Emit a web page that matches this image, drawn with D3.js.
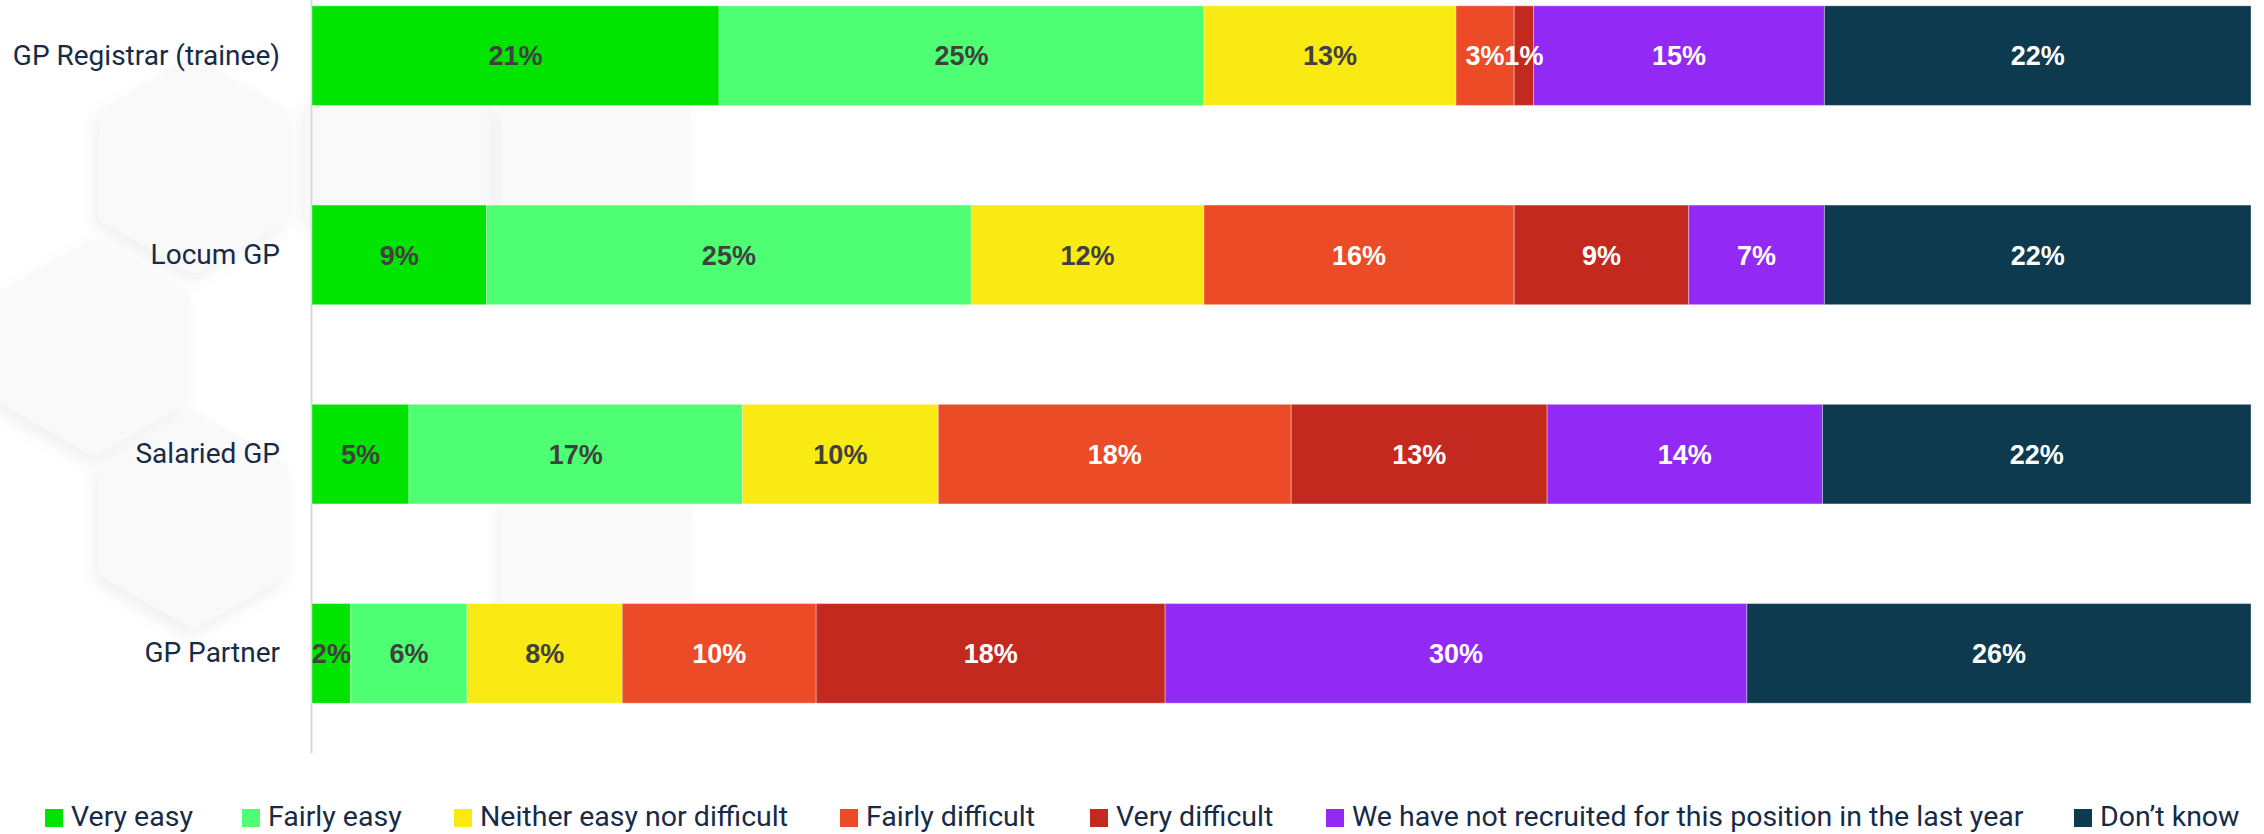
<!DOCTYPE html>
<html>
<head>
<meta charset="utf-8">
<script src="https://cdn.jsdelivr.net/npm/d3@7"></script>
<style>
  html, body { margin: 0; padding: 0; background: #ffffff; }
  svg { display: block; }
</style>
</head>
<body>
<svg id="chart" width="2264" height="834"></svg>
<script>
// ---------- DATA ----------
const categories = ["GP Registrar (trainee)", "Locum GP", "Salaried GP", "GP Partner"];
const seriesNames = [
  "Very easy",
  "Fairly easy",
  "Neither easy nor difficult",
  "Fairly difficult",
  "Very difficult",
  "We have not recruited for this position in the last year",
  "Don\u2019t know"
];
const veryEasy        = [21, 9, 5.0, 2];
const fairlyEasy      = [25, 25, 17.2, 6];
const neither         = [13, 12, 10.1, 8];
const fairlyDifficult = [3, 16, 18.2, 10];
const veryDifficult   = [1, 9, 13.2, 18];
const notRecruited    = [15, 7, 14.2, 30];
const dontKnow        = [22, 22, 22.1, 26];
const seriesValues = [veryEasy, fairlyEasy, neither, fairlyDifficult, veryDifficult, notRecruited, dontKnow];

const seriesColors = ["#00E400", "#4EFF74", "#FAEA14", "#EC4B27", "#C4291F", "#9329F4", "#0E3A50"];
const labelColors  = ["#404040", "#404040", "#404040", "#ffffff", "#ffffff", "#ffffff", "#ffffff"];

// legend layout (x position of each swatch)
const legendX = [45, 242, 454, 840, 1090, 1326, 2074];

// ---------- BUILD TABLE ----------
const table = categories.map((c, i) => {
  const row = { category: c };
  seriesNames.forEach((s, j) => { row[s] = seriesValues[j][i]; });
  return row;
});

const stack = d3.stack().keys(seriesNames).offset(d3.stackOffsetExpand);
const stacked = stack(table);

// ---------- SCALES ----------
const svg = d3.select("#chart");
const x = d3.scaleLinear().domain([0, 1]).range([312, 2251]);
const y = d3.scaleBand().domain(categories).range([-44, 753]).paddingInner(0.5).paddingOuter(0.25);

// ---------- BACKGROUND DECORATION ----------
const defs = svg.append("defs");
const f = defs.append("filter").attr("id", "soft").attr("x", "-30%").attr("y", "-30%").attr("width", "160%").attr("height", "160%");
f.append("feDropShadow").attr("dx", -4).attr("dy", 8).attr("stdDeviation", 8)
  .attr("flood-color", "#000").attr("flood-opacity", 0.06);

const hexes = [[194, 165], [94, 347], [194, 520], [400, 160], [596, 160], [596, 555]];
const R = 100;
const hexPath = (cx, cy) => {
  const pts = d3.range(6).map(k => {
    const a = Math.PI / 3 * k - Math.PI / 2;
    return [cx + R * Math.cos(a), cy + R * Math.sin(a)];
  });
  return d3.line().curve(d3.curveLinearClosed)(pts);
};
svg.append("g").selectAll("path").data(hexes).join("path")
  .attr("d", d => hexPath(d[0], d[1]))
  .attr("fill", "#f9f9f9")
  .attr("stroke", "#f9f9f9")
  .attr("stroke-width", 16)
  .attr("stroke-linejoin", "round")
  .attr("filter", "url(#soft)");

// ---------- CATEGORY AXIS ----------
const yAxis = d3.axisLeft(y).tickSize(0).tickSizeOuter(0).tickPadding(31);
const gy = svg.append("g").attr("transform", "translate(311,0)").call(yAxis);
gy.select(".domain").attr("stroke", "#d9d9d9").attr("stroke-width", 2);
gy.selectAll(".tick text")
  .attr("fill", "#172B46")
  .style("font-family", "Roboto, 'Noto Sans', sans-serif")
  .style("font-size", "28px");

// ---------- BARS ----------
const layers = svg.append("g").selectAll("g").data(stacked).join("g")
  .attr("fill", (d, i) => seriesColors[i]);

layers.selectAll("rect").data(d => d).join("rect")
  .attr("x", d => x(d[0]))
  .attr("y", d => y(d.data.category))
  .attr("width", d => x(d[1]) - x(d[0]))
  .attr("height", y.bandwidth())
  .attr("stroke", "rgba(255,255,255,0.35)")
  .attr("stroke-width", 1);

// ---------- DATA LABELS ----------
const fmt = d3.format(".0f");
const labelsG = svg.append("g");
stacked.forEach((layer, i) => {
  labelsG.append("g").selectAll("text").data(layer).join("text")
    .attr("x", d => (x(d[0]) + x(d[1])) / 2)
    .attr("y", d => y(d.data.category) + y.bandwidth() / 2)
    .attr("dy", "0.36em")
    .attr("text-anchor", "middle")
    .attr("fill", labelColors[i])
    .style("font-family", "'Liberation Sans', Arial, sans-serif")
    .style("font-weight", "bold")
    .style("font-size", "27px")
    .text(d => fmt(d.data[layer.key]) + "%");
});

// ---------- LEGEND ----------
const legend = svg.append("g");
const items = legend.selectAll("g").data(seriesNames).join("g")
  .attr("transform", (d, i) => `translate(${legendX[i]},0)`);
items.append("rect").attr("x", 0).attr("y", 809).attr("width", 18).attr("height", 18)
  .attr("fill", (d, i) => seriesColors[i]);
items.append("text").attr("x", 26).attr("y", 826)
  .attr("fill", "#172B46")
  .style("font-family", "Roboto, 'Noto Sans', sans-serif")
  .style("font-size", "28.5px")
  .text(d => d);
</script>
</body>
</html>
